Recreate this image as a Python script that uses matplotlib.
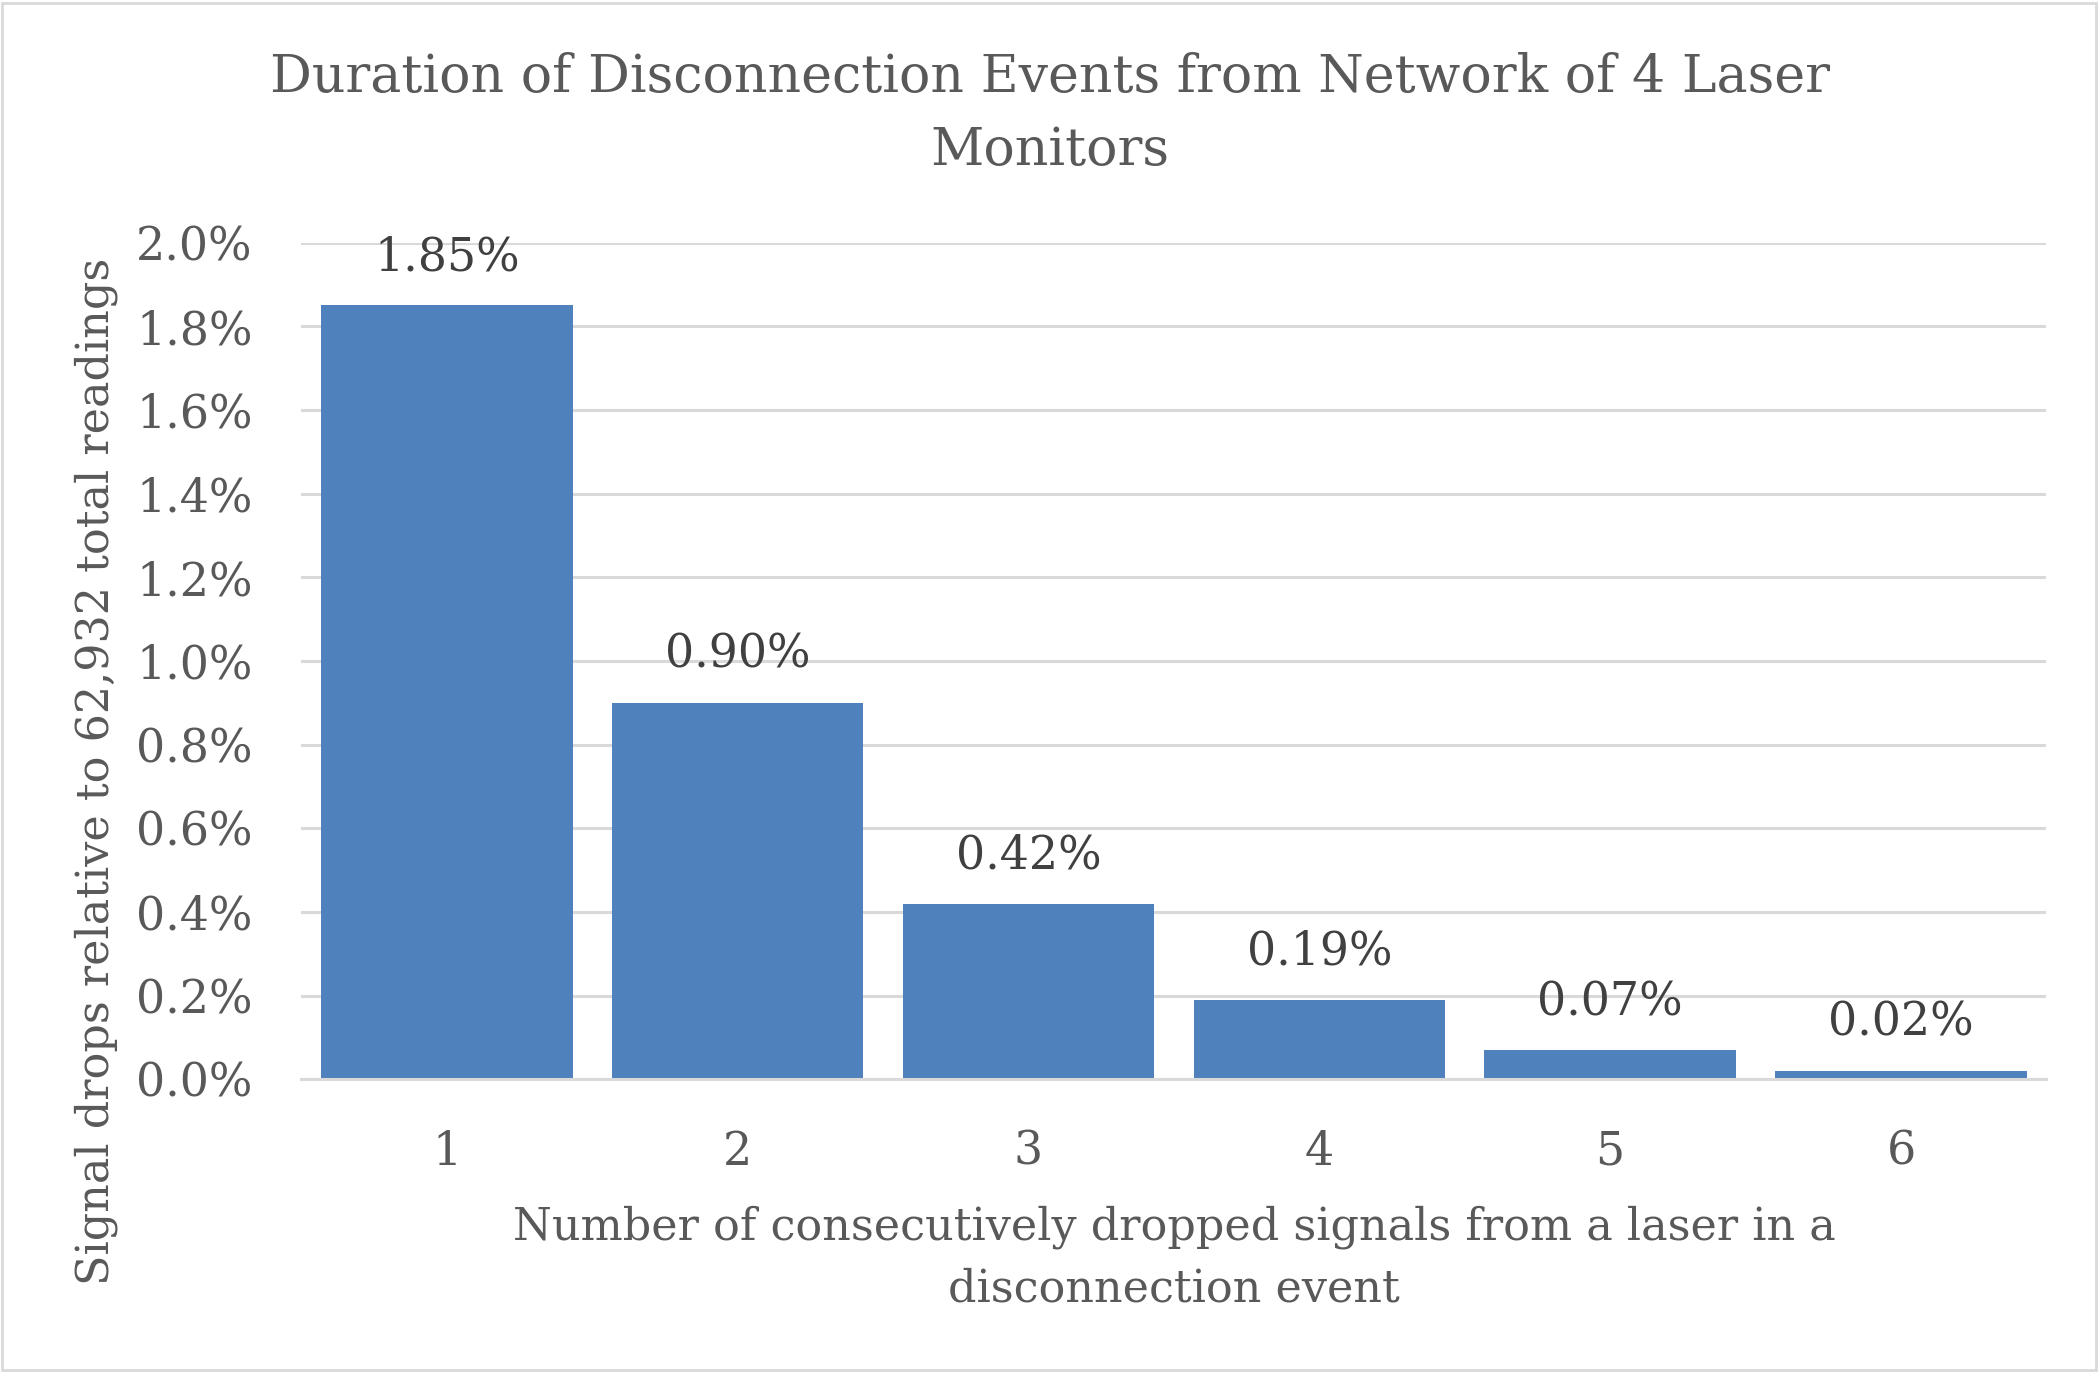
import matplotlib
matplotlib.use("Agg")
from matplotlib import pyplot as plt
from matplotlib.patches import Rectangle
from matplotlib.ticker import FuncFormatter

# data
drops = ["1", "2", "3", "4", "5", "6"]
share = [1.85, 0.90, 0.42, 0.19, 0.07, 0.02]   # percent of all readings
share_labels = ["1.85%", "0.90%", "0.42%", "0.19%", "0.07%", "0.02%"]
y_ticks = [0.0, 0.2, 0.4, 0.6, 0.8, 1.0, 1.2, 1.4, 1.6, 1.8, 2.0]

grey = "#595959"
plt.rcParams["font.family"] = ["DejaVu Serif"]

fig = plt.figure(figsize=(21, 13.73), dpi=100)
ax = fig.add_axes([0.1435, 0.2139, 0.831, 0.6093])

x = range(len(drops))
ax.bar(x, share, width=0.865, color="#4F81BD", zorder=3)
for xi, v, lab in zip(x, share, share_labels):
    ax.annotate(lab, (xi, v), xytext=(0, 18), textcoords="offset points",
                ha="center", va="bottom", fontsize=33, color="#404040")

ax.set_xlim(-0.5, len(drops) - 0.5)
ax.set_ylim(0, 2.0)
ax.set_yticks(y_ticks)
ax.yaxis.set_major_formatter(FuncFormatter(lambda v, p: f"{v:.1f}%"))
ax.set_xticks(list(x))
ax.set_xticklabels(drops)
ax.tick_params(axis="both", length=0, labelsize=33, labelcolor=grey)
ax.tick_params(axis="x", pad=36)
ax.tick_params(axis="y", pad=35)
ax.grid(axis="y", color="#D9D9D9", linewidth=2.2, zorder=0)
for side in ["top", "right", "left"]:
    ax.spines[side].set_visible(False)
ax.spines["bottom"].set_color("#D9D9D9")
ax.spines["bottom"].set_linewidth(2.2)
ax.spines["bottom"].set_zorder(4)

ax.set_xlabel("Number of consecutively dropped signals from a laser in a\n"
              "disconnection event", fontsize=32, color=grey, labelpad=22,
              linespacing=1.55)
ax.set_ylabel("Signal drops relative to 62,932 total readings",
              fontsize=32, color=grey)
ax.yaxis.set_label_coords(-0.105, 0.368)
fig.suptitle("Duration of Disconnection Events from Network of 4 Laser\n"
             "Monitors", fontsize=37.5, color=grey, y=0.962, linespacing=1.55)

# light frame round the whole chart area
fig.patches.append(Rectangle((0.001, 0.002), 0.997, 0.996, transform=fig.transFigure,
                             fill=False, edgecolor="#D9D9D9", linewidth=2))

fig.savefig("out.png", dpi=100)
